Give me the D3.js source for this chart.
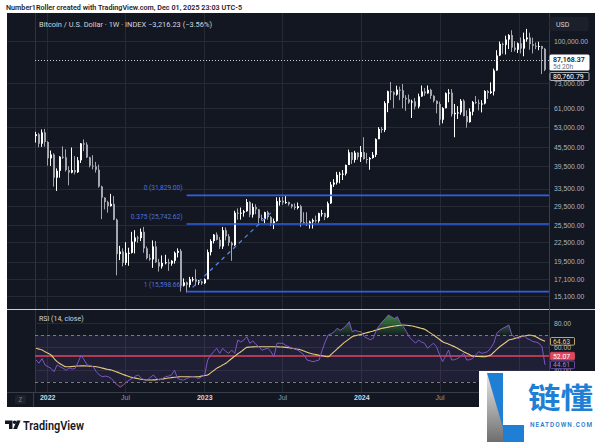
<!DOCTYPE html>
<html><head><meta charset="utf-8">
<script src="https://cdn.jsdelivr.net/npm/d3@7"></script>
<style>html,body{margin:0;padding:0;background:#fff;overflow:hidden}svg{display:block;font-family:Roboto,"Noto Sans",sans-serif}</style>
</head><body><svg id="c" width="600" height="442"></svg>
<script>
// ---------- DATA (prices in thousands of USD, weekly bars from 2021-12-06) ----------
const startWeek = "2021-12-06";
const opens = [
49.4,50.1,46.7,50.8,47.3,41.9,43.1,36.3,38.2,42.4,
42.2,38.4,37.7,38.4,37.8,41.3,46.8,46.4,42.2,39.7,
39.5,38.5,34.0,31.3,30.3,29.4,29.9,26.6,20.6,21.0,
19.3,20.8,20.8,22.6,23.3,23.2,24.3,21.5,20.0,19.8,
21.8,19.4,18.8,19.3,19.4,19.2,19.6,20.8,21.1,16.3,
16.7,16.4,17.1,17.1,16.8,16.8,16.6,17.1,20.9,22.7,
23.8,22.9,21.8,24.6,23.5,22.4,22.0,28.0,27.8,28.0,
28.3,30.3,27.6,29.2,28.7,26.9,26.7,28.1,27.1,25.9,
26.3,30.5,30.6,30.2,30.3,29.8,29.3,29.0,29.4,26.1,
26.0,25.8,26.2,26.5,26.3,27.9,27.9,27.1,30.0,34.5,
35.0,37.1,37.4,37.4,39.9,43.8,41.4,43.7,42.3,43.9,
41.7,41.6,42.0,43.0,48.3,52.1,51.7,63.1,68.9,68.4,
67.2,69.7,69.4,65.6,64.9,63.4,63.9,61.5,66.3,68.8,
67.8,69.6,66.6,64.2,62.7,55.8,60.8,67.9,68.2,58.1,
58.7,58.9,64.2,57.3,54.8,59.2,63.6,63.3,62.8,62.9,
69.0,68.0,68.8,80.4,89.8,97.9,97.2,101.1,104.5,95.2,
93.7,98.3,94.5,101.3,102.6,97.7,96.5,96.1,96.3,94.3];
const highs = [
51.0,50.6,51.9,52.1,47.6,44.4,43.5,38.9,42.6,45.8,
44.8,39.5,45.4,42.6,42.3,46.9,48.2,47.2,42.4,42.9,
40.8,40.0,34.2,31.4,30.6,32.2,31.7,26.8,21.9,21.5,
22.5,21.6,24.3,24.6,23.6,24.9,25.2,21.8,20.6,22.8,
22.7,19.9,20.4,20.5,19.9,19.7,21.0,21.5,21.4,17.2,
16.8,17.4,17.4,18.4,17.0,16.9,17.2,21.3,23.0,23.9,
24.2,23.4,25.2,25.1,23.9,22.6,28.4,28.9,29.1,28.6,
31.0,30.5,30.0,29.8,28.8,27.6,28.2,28.4,27.3,26.8,
31.4,31.4,31.5,31.8,30.4,29.9,30.0,30.2,29.7,28.1,
28.1,26.4,26.8,27.4,28.0,28.6,28.0,30.4,35.2,35.9,
37.9,37.9,38.4,40.0,44.7,43.9,44.3,43.8,45.9,49.0,
43.6,42.3,43.9,48.6,52.8,52.9,64.0,69.2,73.8,68.9,
71.8,71.3,72.7,66.9,67.2,64.7,65.5,67.7,71.9,70.6,
71.9,70.2,66.9,64.3,63.8,61.2,68.3,70.0,70.0,62.7,
61.7,65.0,64.9,59.8,60.7,64.1,66.5,64.8,64.5,69.4,
69.5,73.6,81.5,93.4,99.6,98.8,104.0,105.2,108.3,99.9,
98.9,102.7,106.4,109.4,106.4,102.5,98.8,99.5,96.5,95.0];
const lows = [
47.1,45.5,45.6,45.7,39.7,39.6,34.0,32.9,36.3,41.7,
38.0,34.3,37.5,37.2,37.6,40.5,44.2,42.0,39.2,38.6,
37.7,33.7,26.7,28.7,28.0,29.3,26.5,17.6,19.7,18.8,
19.0,18.9,20.7,20.7,22.4,22.7,20.8,19.8,19.6,18.6,
19.3,18.1,18.5,19.1,18.2,18.9,19.2,20.1,15.6,16.2,
15.5,16.1,16.8,16.3,16.4,16.4,16.5,17.1,20.4,22.3,
22.8,21.4,21.4,22.8,21.9,19.6,21.9,26.6,26.6,27.2,
28.2,27.1,27.0,27.7,25.9,26.4,25.9,26.6,25.4,24.8,
26.2,29.5,29.7,29.9,29.5,28.9,28.6,28.7,25.2,25.8,
25.4,24.9,24.9,26.0,26.0,27.2,26.5,26.9,29.9,33.9,
34.5,34.8,35.7,36.9,39.9,40.2,40.6,41.5,40.8,41.5,
40.3,38.5,41.8,42.3,48.3,50.6,50.9,59.0,64.5,60.8,
66.7,64.5,60.7,59.6,62.8,56.5,60.2,60.7,66.1,66.6,
67.7,65.1,63.4,58.5,53.5,54.3,60.7,63.5,57.1,49.0,
56.1,57.9,57.2,52.6,54.6,57.6,62.7,59.8,58.9,62.5,
65.1,67.5,66.8,80.2,89.4,90.9,90.5,94.2,92.2,92.5,
91.5,91.2,89.3,99.5,93.7,91.2,94.1,93.4,78.2,80.0];
const closes = [
50.1,46.7,50.8,47.3,41.9,43.1,36.3,38.2,42.4,42.2,
38.4,37.7,38.4,37.8,41.3,46.8,46.4,42.2,39.7,39.5,
38.5,34.0,31.3,30.3,29.4,29.9,26.6,20.6,21.0,19.3,
20.8,20.8,22.6,23.3,23.2,24.3,21.5,20.0,19.8,21.8,
19.4,18.8,19.3,19.4,19.2,19.6,20.8,21.1,16.3,16.7,
16.4,17.1,17.1,16.8,16.8,16.6,17.1,20.9,22.7,23.8,
22.9,21.8,24.6,23.5,22.4,22.0,28.0,27.8,28.0,28.3,
30.3,27.6,29.2,28.7,26.9,26.7,28.1,27.1,25.9,26.3,
30.5,30.6,30.2,30.3,29.8,29.3,29.0,29.4,26.1,26.0,
25.8,26.2,26.5,26.3,27.9,27.9,27.1,30.0,34.5,35.0,
37.1,37.4,37.4,39.9,43.8,41.4,43.7,42.3,43.9,41.7,
41.6,42.0,43.0,48.3,52.1,51.7,63.1,68.9,68.4,67.2,
69.7,69.4,65.6,64.9,63.4,63.9,61.5,66.3,68.8,67.8,
69.6,66.6,64.2,62.7,55.8,60.8,67.9,68.2,58.1,58.7,
58.9,64.2,57.3,54.8,59.2,63.6,63.3,62.8,62.9,69.0,
68.0,68.8,80.4,89.8,97.9,97.2,101.1,104.5,95.2,93.7,
98.3,94.5,101.3,102.6,97.7,96.5,96.1,96.3,94.3,80.76];
const rsiValues = [
48.7,46,50,44.5,43,41.6,38.8,44.5,43,41.7,
40,42,41,41.6,47,53,48.7,44.5,44,43,
38.8,36,34.5,35,34.5,33,30,27.4,25.7,27.4,
30,31.7,33,35,36,33,32,31.7,34,36,
33,31.7,33,34.5,35,36,40,33,32,31.7,
33,34,34.5,34,33,34.5,36,48.7,53,55.8,
58.7,54.4,58.7,56,54.4,57.2,54.4,65.7,64,65.7,
68.6,62.9,65,62,60,57,58,58.7,55.8,51.5,
62.9,63,62.9,61,60,59,58,57,55,53,
48.7,48,47.3,48,48.7,57,64,70,71,72.8,
75.7,74,75.7,78,81.3,72.8,74,73,72.8,68.6,
67.2,66,67.2,74.3,78,81.3,84,87,85.6,84,
85.6,80,77,72.8,68,65.7,63,65.7,64,63,
58.7,61,63,60,53,47.3,52,57.2,48.7,49,
50,52,54.4,48.7,49,50,53,55.8,54.4,55,
55.8,59,63,71.4,74,75.7,77,78.5,70,68,
67,68,70,67,66,64.3,64,63,60,44.61];
const rsiMAValues = [
58.7,58,57.2,55.8,54.4,53,50,47.3,45.5,44,
43,43,43.2,43.4,43.6,43.7,43.7,43.6,43.4,43.2,
43,42.5,41.8,41.2,40.7,40.2,39.3,38.4,37.4,36.4,
35.4,34.5,33.9,33.3,32.8,32.3,32,31.8,31.7,31.8,
32,32.3,32.6,33,33.4,33.7,34,34.3,34.5,34.5,
34.5,34.5,34.5,34.5,34.5,35,35.5,36,37.8,39.7,
41.6,43,44.5,45.9,48,50,52,54,55.8,57.7,
59.5,59.7,59.9,60,60,60,60,60,60,60,
60,59.8,59.7,59.5,59.1,58.7,58.2,57.8,57.2,56.3,
55.3,54.4,53.9,53.3,52.8,52.3,51.8,51.5,53.5,55.8,
58.2,60.5,62.9,64.8,66.7,68.6,69.3,70,70.7,71.4,
72,72.7,73.4,74.2,75,75.7,76.2,76.7,77.2,77.7,
78,78.3,78.5,78.3,78,77.7,77,76.3,75.6,74.9,
73.3,71.6,70,68.1,66.2,64.3,63.2,62.2,61.1,60,
58.6,57.2,55.8,54.5,53.2,52,51.8,51.7,51.6,51.5,
52.2,53,55.3,57.7,60,61.9,63.8,65.7,66.4,67.1,
67.9,68.6,69.1,69.6,70,69.3,68.6,67.1,65.7,64.63];
const priceTicks = [100,73,61,53,45.5,39.5,33.5,29.5,25.5,22.5,19.5,17.1,15.1];
const rsiTicks = [80,60,40];
const rsiBands = [70,30];
const rsiRedLine = 52.07;
const timeTickDates = ["2022-01-01","2022-07-01","2023-01-01","2023-07-01","2024-01-01","2024-07-01","2025-01-01"];
const timeTickLabels = ["2022","Jul","2023","Jul","2024","Jul","2025"];
const fibRatios = ["0","0.375","1"];
const fibPrices = [31.829,25.74262,15.59866];
const fibStartIndex = 50;
const trendIdx = [52,79];
const trendPrice = [16.1,28.6];
const currentPrice = 87.16837;
const lastMarker = 80.76079;

// ---------- LAYOUT ----------
const svg = d3.select('#c');
const FX0=7, FX1=595, FY0=13, FY1=407;
const plotL=7, plotR=549, dataL=35;
const mainTop=13, mainBot=309, rsiTop=310, rsiBot=392;
const gridC='#262a35', txtC='#b2b5be';

const defs = svg.append('defs');
svg.append('rect').attr('x',FX0).attr('y',FY0).attr('width',FX1-FX0).attr('height',FY1-FY0).attr('fill','#131722');

const parse = d3.utcParse('%Y-%m-%d');
const t0 = parse(startWeek);
const dates = closes.map((_,i)=>d3.utcDay.offset(t0,7*i));
const x = d3.scaleUtc().domain([dates[0],dates[dates.length-1]]).range([36,545]);
const y = d3.scaleLog().domain([15.1,100]).range([296,41]);
const yR = d3.scaleLinear().domain([30,70]).range([382,335]);
const tickDates = timeTickDates.map(parse);

// clip paths
defs.append('clipPath').attr('id','mainClip').append('rect').attr('x',plotL).attr('y',mainTop).attr('width',plotR-plotL).attr('height',mainBot-mainTop);
defs.append('clipPath').attr('id','rsiClip').append('rect').attr('x',dataL).attr('y',rsiTop).attr('width',plotR-dataL).attr('height',rsiBot-rsiTop);

// ---------- GRID ----------
const grid = svg.append('g');
grid.append('g').attr('transform',`translate(${plotL},0)`)
  .call(d3.axisRight(y).tickValues(priceTicks).tickSize(plotR-plotL).tickFormat(''))
  .call(g=>{g.select('.domain').remove();g.selectAll('line').attr('stroke',gridC).attr('shape-rendering','crispEdges');});
grid.append('g').attr('transform',`translate(0,${mainTop})`)
  .call(d3.axisBottom(x).tickValues(tickDates).tickSize(rsiBot-mainTop).tickFormat(''))
  .call(g=>{g.select('.domain').remove();g.selectAll('line').attr('stroke',gridC).attr('shape-rendering','crispEdges');});
grid.append('line').attr('x1',35.5).attr('x2',35.5).attr('y1',mainTop).attr('y2',rsiBot).attr('stroke','#2e323d');
grid.append('g').attr('transform',`translate(${dataL},0)`)
  .call(d3.axisRight(yR).tickValues(rsiTicks).tickSize(plotR-dataL).tickFormat(''))
  .call(g=>{g.select('.domain').remove();g.selectAll('line').attr('stroke',gridC).attr('shape-rendering','crispEdges');});

// ---------- MAIN PANE ----------
const main = svg.append('g').attr('clip-path','url(#mainClip)');
const upC='#ffffff', dnC='#a3a6ad';
const cg = main.append('g');
closes.forEach((c,i)=>{
  const cx = Math.round(x(dates[i]));
  const col = c>=opens[i]?upC:dnC;
  cg.append('line').attr('x1',cx-0.5).attr('x2',cx-0.5).attr('y1',y(highs[i])).attr('y2',y(lows[i])).attr('stroke',col).attr('stroke-width',1);
  const yt=y(Math.max(c,opens[i])), yb=y(Math.min(c,opens[i]));
  cg.append('rect').attr('x',cx-1).attr('y',yt).attr('width',2).attr('height',Math.max(1,yb-yt)).attr('fill',col);
});

// fib lines
const fibX0 = x(dates[fibStartIndex]);
fibPrices.forEach((p,k)=>{
  main.append('line').attr('x1',fibX0).attr('x2',plotR).attr('y1',y(p)).attr('y2',y(p)).attr('stroke','#2f5fe8').attr('stroke-width',1.6);
  svg.append('text').attr('x',fibX0-4).attr('y',y(p)-5).attr('text-anchor','end').attr('font-size',6.6).attr('fill','#4d72dc')
    .text(`${fibRatios[k]} (${d3.format(',.2f')(p*1000)})`);
});
// dashed trend line
main.append('line').attr('x1',x(dates[trendIdx[0]])).attr('y1',y(trendPrice[0])).attr('x2',x(dates[trendIdx[1]])).attr('y2',y(trendPrice[1]))
  .attr('stroke','#5b86f0').attr('stroke-width',1.2).attr('stroke-dasharray','4,4');
// current price dotted line
main.append('line').attr('x1',dataL).attr('x2',plotR).attr('y1',Math.round(y(currentPrice))+0.5).attr('y2',Math.round(y(currentPrice))+0.5)
  .attr('stroke','#c9ccd3').attr('stroke-width',1).attr('stroke-dasharray','1,2');

// ---------- RSI PANE ----------
const rsiG = svg.append('g').attr('clip-path','url(#rsiClip)');
rsiG.append('rect').attr('x',dataL).attr('width',plotR-dataL).attr('y',yR(70)).attr('height',yR(30)-yR(70)).attr('fill','rgba(126,87,194,0.12)');
rsiBands.forEach(v=>rsiG.append('line').attr('x1',dataL).attr('x2',plotR).attr('y1',Math.round(yR(v))+0.5).attr('y2',Math.round(yR(v))+0.5)
  .attr('stroke','#787b86').attr('stroke-dasharray','3,3').attr('stroke-width',1));
const gOB = defs.append('linearGradient').attr('id','gOB').attr('gradientUnits','userSpaceOnUse').attr('x1',0).attr('x2',0).attr('y1',yR(90)).attr('y2',yR(70));
gOB.append('stop').attr('offset','0').attr('stop-color','rgba(76,175,80,0.85)');
gOB.append('stop').attr('offset','1').attr('stop-color','rgba(76,175,80,0.05)');
const gOS = defs.append('linearGradient').attr('id','gOS').attr('gradientUnits','userSpaceOnUse').attr('x1',0).attr('x2',0).attr('y1',yR(30)).attr('y2',yR(10));
gOS.append('stop').attr('offset','0').attr('stop-color','rgba(242,54,69,0.05)');
gOS.append('stop').attr('offset','1').attr('stop-color','rgba(242,54,69,0.8)');
rsiG.append('path').datum(rsiValues).attr('fill','url(#gOB)')
  .attr('d',d3.area().x((d,i)=>x(dates[i])).y0(yR(70)).y1(d=>yR(Math.max(d,70))));
rsiG.append('path').datum(rsiValues).attr('fill','url(#gOS)')
  .attr('d',d3.area().x((d,i)=>x(dates[i])).y0(yR(30)).y1(d=>yR(Math.min(d,30))));
rsiG.append('line').attr('x1',dataL).attr('x2',plotR).attr('y1',yR(rsiRedLine)).attr('y2',yR(rsiRedLine)).attr('stroke','#e0475f').attr('stroke-width',1.6);
rsiG.append('path').datum(rsiMAValues).attr('fill','none').attr('stroke','#e9cb7e').attr('stroke-width',1.1)
  .attr('d',d3.line().x((d,i)=>x(dates[i])).y(d=>yR(d)).curve(d3.curveMonotoneX));
rsiG.append('path').datum(rsiValues).attr('fill','none').attr('stroke','#7e57c2').attr('stroke-width',1)
  .attr('d',d3.line().x((d,i)=>x(dates[i])).y(d=>yR(d)));

// ---------- SEPARATORS ----------
svg.append('line').attr('x1',FX0).attr('x2',FX1).attr('y1',309.5).attr('y2',309.5).attr('stroke','#cdd0d7').attr('stroke-width',1);
svg.append('line').attr('x1',FX0).attr('x2',FX1).attr('y1',392.5).attr('y2',392.5).attr('stroke','#3a3e4a');
svg.append('line').attr('x1',plotR+0.5).attr('x2',plotR+0.5).attr('y1',FY0).attr('y2',FY1).attr('stroke','#3a3e4a');
svg.append('line').attr('x1',33.5).attr('x2',33.5).attr('y1',392).attr('y2',FY1).attr('stroke','#3a3e4a');

// ---------- PRICE AXIS ----------
svg.append('g').attr('transform','translate(554,0)')
  .call(d3.axisRight(y).tickValues(priceTicks).tickSize(0).tickPadding(0).tickFormat(v=>d3.format(',.2f')(v*1000)))
  .call(g=>{g.select('.domain').remove();g.selectAll('text').attr('fill',txtC).attr('font-size',6.8).attr('dy','0.35em');});
// USD box
svg.append('rect').attr('x',549.5).attr('y',17).attr('width',39).attr('height',14).attr('rx',2).attr('fill','#1c202b');
svg.append('text').attr('x',556).attr('y',26.5).attr('font-size',7).attr('fill','#d1d4dc').text('USD');
// current price label
const cpy = y(currentPrice);
svg.append('rect').attr('x',549.5).attr('y',cpy-5).attr('width',40).attr('height',16).attr('rx',1.5).attr('fill','#ffffff');
svg.append('text').attr('x',553).attr('y',cpy+2.3).attr('font-size',7).attr('font-weight',600).attr('fill','#131722').text(d3.format(',.2f')(currentPrice*1000));
svg.append('text').attr('x',553).attr('y',cpy+9).attr('font-size',6.6).attr('fill','#6a6d78').text('5d 20h');
svg.append('rect').attr('x',550).attr('y',72.5).attr('width',39).attr('height',8).attr('rx',1).attr('fill','#131722').attr('stroke','#d1d4dc').attr('stroke-width',0.8);
svg.append('text').attr('x',553).attr('y',79).attr('font-size',7).attr('fill','#ffffff').text(d3.format(',.2f')(lastMarker*1000));

// ---------- RSI AXIS ----------
svg.append('g').attr('transform','translate(554,0)')
  .call(d3.axisRight(yR).tickValues(rsiTicks).tickSize(0).tickPadding(0).tickFormat(d3.format('.2f')))
  .call(g=>{g.select('.domain').remove();g.selectAll('text').attr('fill',txtC).attr('font-size',6.8).attr('dy','0.35em');});
const rsiLabels = [
  {v:rsiMAValues[rsiMAValues.length-1], fill:'#131722', stroke:'#e9cb7e', tc:'#e9cb7e'},
  {v:rsiRedLine, fill:'#e0475f', stroke:'#e0475f', tc:'#ffffff'},
  {v:rsiValues[rsiValues.length-1], fill:'#131722', stroke:'#7e57c2', tc:'#9d80e0'}];
rsiLabels.forEach(l=>{
  const yy=yR(l.v);
  svg.append('rect').attr('x',550.5).attr('y',yy-3.8).attr('width',24).attr('height',7.6).attr('rx',1).attr('fill',l.fill).attr('stroke',l.stroke).attr('stroke-width',0.8);
  svg.append('text').attr('x',553).attr('y',yy+2.5).attr('font-size',6.8).attr('fill',l.tc).text(d3.format('.2f')(l.v));
});

// ---------- TIME AXIS ----------
svg.append('g').attr('transform','translate(0,395)')
  .call(d3.axisBottom(x).tickValues(tickDates).tickSize(0).tickPadding(0).tickFormat((d,i)=>timeTickLabels[i]))
  .call(g=>{g.select('.domain').remove();
    g.selectAll('text').attr('font-size',7).attr('dy','0.71em')
     .attr('fill',(d,i)=>timeTickLabels[i]==='Jul'?'#9598a1':'#d1d4dc')
     .attr('font-weight',(d,i)=>timeTickLabels[i]==='Jul'?400:700);});
svg.append('rect').attr('x',15).attr('y',395).attr('width',11).attr('height',9).attr('rx',1.5).attr('fill','#1e222d');
svg.append('text').attr('x',20.5).attr('y',402).attr('text-anchor','middle').attr('font-size',6.5).attr('fill','#787b86').text('Z');

// ---------- TEXTS ----------
svg.append('text').attr('x',6).attr('y',9.5).attr('font-size',7.6).attr('font-weight',600).attr('fill','#1f2229')
  .attr('textLength',236).attr('lengthAdjust','spacingAndGlyphs')
  .text('Number1Roller created with TradingView.com, Dec 01, 2025 23:03 UTC-5');
svg.append('text').attr('x',39).attr('y',26.5).attr('font-size',7.2).attr('fill','#d1d4dc')
  .attr('textLength',173).attr('lengthAdjust','spacingAndGlyphs')
  .text('Bitcoin / U.S. Dollar · 1W · INDEX  \u22123,216.23 (\u22123.56%)');
svg.append('text').attr('x',39).attr('y',320.5).attr('font-size',7).attr('fill','#d1d4dc').text('RSI (14, close)');

// TradingView footer
const tv = svg.append('g').attr('fill','#131722');
tv.append('path').attr('d','M5,420.5 H12.5 V429 H9 V424 H5 Z');
tv.append('circle').attr('cx',14.6).attr('cy',422.3).attr('r',1.8);
tv.append('path').attr('d','M16.8,420.5 H20.6 L17,429 H13.2 Z');
svg.append('text').attr('x',23).attr('y',429.5).attr('font-size',12).attr('font-weight',600).attr('fill','#131722')
  .attr('textLength',61).attr('lengthAdjust','spacingAndGlyphs').text('TradingView');

// ---------- WATERMARK ----------
const wm = svg.append('g');
wm.append('rect').attr('x',479).attr('y',371).attr('width',121).attr('height',71).attr('fill','#ffffff');
const gW = defs.append('linearGradient').attr('id','gW').attr('x1',0).attr('x2',0).attr('y1',0).attr('y2',1);
gW.append('stop').attr('offset','0').attr('stop-color','#e8e8e8');
gW.append('stop').attr('offset','1').attr('stop-color','#6e6e6e');
wm.append('rect').attr('x',487).attr('y',373).attr('width',16).attr('height',69).attr('fill','url(#gW)');
wm.append('path').attr('d','M487,373 H503 V428 Z').attr('fill','#1f7fd4');
wm.append('path').attr('d','M503,425 H524 V442 H503 Z').attr('fill','#1f7fd4');
wm.append('text').attr('x',528).attr('y',409).attr('font-family','"Noto Sans CJK SC"').attr('font-size',29).attr('font-weight',700)
  .attr('fill','#1f7fd4').attr('textLength',65).attr('lengthAdjust','spacingAndGlyphs').text('链懂');
wm.append('text').attr('x',530).attr('y',427).attr('font-size',6.4).attr('font-weight',600).attr('fill','#1f7fd4')
  .attr('textLength',62).attr('lengthAdjust','spacing').text('NEATDOWN.COM');
</script></body></html>
